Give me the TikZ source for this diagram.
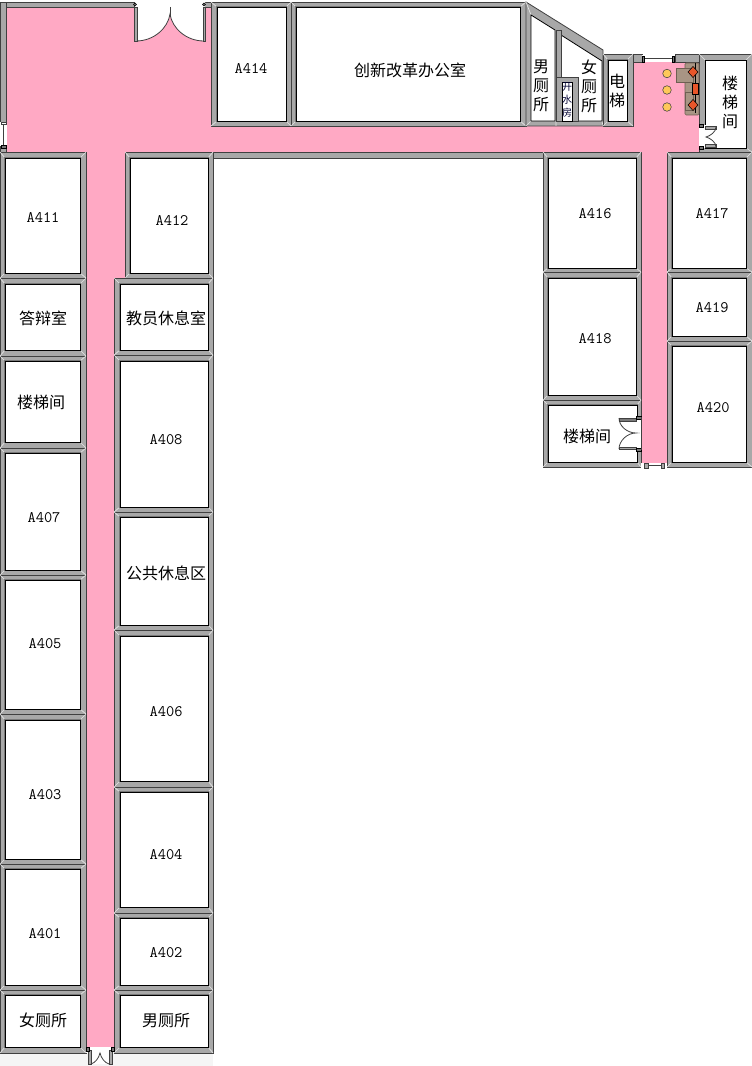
\documentclass[tikz,border=0pt]{standalone}
\usepackage{fontspec}
\newfontfamily\cjk{Noto Sans CJK SC}
\definecolor{corr}{HTML}{FFA9C4}
\definecolor{wallc}{HTML}{A8A8A8}
\definecolor{walld}{HTML}{404040}
\definecolor{sofa}{HTML}{A89584}
\definecolor{sofad}{HTML}{6E5F52}
\definecolor{orng}{HTML}{E8562A}
\definecolor{ylw}{HTML}{FFC85A}
\tikzset{
  wall/.style={fill=wallc,draw=walld,line width=0.6pt},
  inner room/.style={fill=white,draw=black,line width=0.6pt},
  inner edge/.style={draw=walld!70,line width=0.9pt},
  mitre/.style={draw=white!80!gray,line width=0.5pt},
  lat/.style={font=\ttfamily\fontsize{12}{12}\selectfont,inner sep=0pt},
  cjkt/.style={font=\cjk\fontsize{12}{13}\selectfont,inner sep=0pt},
  vert/.style={font=\cjk\fontsize{12}{14.25}\selectfont,inner sep=0pt,align=center},
  tiny cjk/.style={font=\cjk\fontsize{7.5}{9.6}\selectfont,inner sep=0pt,align=center,text=black!80!blue},
  leaf/.style={draw=walld,line width=0.6pt},
  barpart/.style={fill=wallc,draw=walld,line width=0.4pt},
  capbit/.style={fill=walld!70,draw=black,line width=0.4pt}
}
% name, outer corner a, outer corner b, inner corner a, inner corner b, text pos, text style, text
\newcommand\roomx[8]{%
  \path[wall] (#2) rectangle (#3);
  \path (#2) coordinate (oa) (#3) coordinate (ob) (#4) coordinate (ia) (#5) coordinate (ib);
  \draw[mitre] (oa) -- (ia) (ob) -- (ib) (oa |- ob) -- (ia |- ib) (ob |- oa) -- (ib |- ia);
  \path[inner edge] (ia) rectangle (ib);
  \path[inner room] (ia) rectangle (ib);
  \node[#7] (#1) at (#6) {#8};
}
\begin{document}
\begin{tikzpicture}[x=0.75pt,y=-0.75pt]
\useasboundingbox (0,0) rectangle (752,1066);
\fill[white] (0,0) rectangle (752,1066);
\fill[black!4] (0,1053) rectangle (213,1066);
% corridor
\fill[corr] (6,7) -- (211,7) -- (211,126) -- (633,126) -- (633,62) -- (699,62) -- (699,152) -- (667,152) -- (667,463) -- (641,463) -- (641,152) -- (125,152) -- (125,278) -- (114,278) -- (114,1047) -- (86,1047) -- (86,152) -- (6,152) -- cycle;
% outer walls at top left
\path[wall] (0,2) rectangle (134,7);
\path[wall] (0,2) rectangle (6,122);
\path[wall] (0,146) rectangle (6,152);
\path[wall] (204,2) rectangle (211,7);
% entrance door
\fill[white] (135,0) -- (205,0) -- (205,41) .. controls (186,41) and (172,28) .. (170,14) .. controls (168,28) and (154,41) .. (136,41) -- cycle;
\draw[leaf] (136,41) .. controls (154,41) and (168,28) .. (170,14) .. controls (172,28) and (186,41) .. (204,41);
\draw[leaf] (170,7) -- (170,17);
\path[wall] (134,7) rectangle (137,41);
\path[wall] (203,7) rectangle (205.5,41);
\draw[capbit] (135,4.5) circle (1.5);
\draw[capbit] (204,4.5) circle (1.5);
% left window
\fill[white] (0,122) rectangle (6.5,146);
\draw[leaf] (3,123) -- (3,145);
\path[barpart,fill=white] (1,122) rectangle (6,124);
\path[capbit] (1,145) rectangle (6,148);
% top rooms
\roomx{r414}{211,2}{291,126}{217,7}{286,121}{251,69}{lat}{A414}
\roomx{rchuang}{291,2}{526,126}{296,7}{520,121}{410,70}{cjkt}{创新改革办公室}
% toilets upper block
\path[wall] (526,2) -- (603,50) -- (603,126) -- (526,126) -- cycle;
\draw[mitre] (526,2) -- (531,15) (526,126) -- (531,121) (603,126) -- (602,121) (556,126) -- (556,121);
\path[inner room] (531,15) -- (555,30) -- (555,121) -- (531,121) -- cycle;
\path[inner room] (561,35) -- (602,61) -- (602,121) -- (561,121) -- cycle;
\path[wall] (556,30) rectangle (561,121);
\path[wall] (556,77) rectangle (578,121);
\path[fill=white,draw=black,line width=0.4pt] (562,82) rectangle (572,121);
\node[vert] (rnan) at (541,86) {男\\厕\\所};
\node[vert] (rnv) at (589,86) {女\\厕\\所};
\node[tiny cjk] (rkai) at (567,100) {开\\水\\房};
% elevator
\roomx{rdian}{603,54}{633,126}{608,60}{627,121}{617,91}{vert}{电\\梯}
% walls around top window
\path[wall] (633,54) rectangle (642,62);
\path[wall] (675,54) rectangle (700,62);
\fill[white] (642,55) rectangle (675,62);
\draw[leaf] (644,58) -- (673,58);
\path[capbit] (642,56) rectangle (644,62);
\path[capbit] (672,56) rectangle (674,62);
% stairs upper right
\path[wall] (699,54) rectangle (752,152);
\draw[mitre] (699,54) -- (705,60) (752,54) -- (746,60) (752,152) -- (746,148);
\path[inner room] (705,60) rectangle (746,148);
\node[vert] (rlou) at (730,102) {楼\\梯\\间};
% right stair door
\fill[white] (699,125) rectangle (706,148);
\path[barpart] (705,126) rectangle (716,129);
\path[barpart] (705,144) rectangle (716,147);
\draw[leaf] (716,127) .. controls (716,132) and (710,136) .. (706,137) .. controls (710,138) and (716,142) .. (716,147);
\path[capbit] (699,124) rectangle (703,127);
\path[capbit] (699,146) rectangle (703,149);
% sofa and lamps
\path[fill=sofa,draw=sofad,line width=0.4pt,rounded corners=1pt] (685,63) rectangle (699,115);
\path[fill=sofa,draw=sofad,line width=0.4pt] (676,68) rectangle (693,82);
\path[fill=sofa,draw=sofad,line width=0.4pt] (685,92) rectangle (693,110);
\draw[black,line width=0.7pt] (695,63) -- (695,113);
\path[fill=orng,draw=black,line width=0.4pt] (693,66.5) -- (698,72) -- (693,77.5) -- (688,72) -- cycle;
\path[fill=orng,draw=black,line width=0.4pt] (693,99.5) -- (698,105) -- (693,110.5) -- (688,105) -- cycle;
\path[fill=orng,draw=black,line width=0.4pt] (692,83) rectangle (698,94);
\foreach \yy in {73.5,90,107} \path[fill=ylw,draw=walld,line width=0.4pt] (667,\yy) circle (4.3);
% corridor wall from A412 to A416
\path[wall] (213,152) rectangle (543,158);
% left column
\roomx{r411}{0,152}{86,278}{5,158}{80,273}{43,218}{lat}{A411}
\roomx{rdab}{0,278}{86,356}{5,284}{80,350}{43,318}{cjkt}{答辩室}
\roomx{rl1}{0,356}{86,448}{5,361}{80,442}{41,402}{cjkt}{楼梯间}
\roomx{r407}{0,448}{86,575}{5,453}{80,570}{44,518}{lat}{A407}
\roomx{r405}{0,575}{86,714}{5,580}{80,709}{45,644}{lat}{A405}
\roomx{r403}{0,714}{86,864}{5,720}{80,859}{45,795}{lat}{A403}
\roomx{r401}{0,864}{86,990}{5,869}{80,985}{45,934}{lat}{A401}
\roomx{rnvb}{0,990}{86,1053}{5,995}{80,1047}{43,1020}{cjkt}{女厕所}
% right column
\roomx{r412}{125,152}{213,278}{130,158}{208,273}{172,220}{lat}{A412}
\roomx{rjy}{114,278}{213,355}{120,284}{208,350}{166,318}{cjkt}{教员休息室}
\roomx{r408}{114,355}{213,512}{120,361}{208,507}{166,440}{lat}{A408}
\roomx{rgg}{114,512}{213,630}{120,517}{208,625}{166,573}{cjkt}{公共休息区}
\roomx{r406}{114,630}{213,787}{120,636}{208,781}{166,712}{lat}{A406}
\roomx{r404}{114,787}{213,913}{120,792}{208,907}{166,855}{lat}{A404}
\roomx{r402}{114,913}{213,990}{120,918}{208,985}{166,953}{lat}{A402}
\roomx{rnanb}{114,990}{213,1053}{120,995}{208,1047}{166,1021}{cjkt}{男厕所}
% right block
\roomx{r416}{543,152}{641,272}{548,158}{636,268}{595,214}{lat}{A416}
\roomx{r418}{543,272}{641,400}{548,278}{636,395}{595,339}{lat}{A418}
\roomx{rl2}{543,400}{641,467}{548,405}{637,462}{587,436}{cjkt}{楼梯间}
\roomx{r417}{667,152}{752,272}{672,158}{746,268}{712,214}{lat}{A417}
\roomx{r419}{667,272}{752,341}{672,278}{746,336}{712,308}{lat}{A419}
\roomx{r420}{667,341}{752,467}{672,346}{746,462}{713,408}{lat}{A420}
% door of lower stairs
\fill[white] (635,417) rectangle (641,450);
\path[barpart,fill=walld!70] (619,418) rectangle (636,421);
\path[barpart] (619,447) rectangle (636,449);
\draw[leaf] (619,418) .. controls (619,426) and (627,433) .. (636,433) .. controls (627,433) and (619,441) .. (619,449);
\path[capbit] (636,416) rectangle (641,419);
\path[capbit] (636,448) rectangle (641,451);
\draw[walld,line width=0.6pt] (641,417) -- (641,450);
% bottom window of right corridor
\fill[white] (641,463) rectangle (667,468);
\draw[leaf] (647,465.5) -- (661,465.5);
\path[barpart] (644,463) rectangle (648,468);
\path[barpart] (661,463) rectangle (664,468);
% bottom door
\fill[white] (86,1047) rectangle (114,1053);
\fill[white] (91,1053) rectangle (109,1064);
\path[barpart] (88,1050) rectangle (91,1064);
\path[barpart] (109,1050) rectangle (112,1064);
\draw[leaf] (91,1064) .. controls (95,1063) and (99,1058) .. (100,1053) .. controls (101,1058) and (105,1063) .. (109,1064);
\path[capbit] (86,1047) rectangle (89,1051);
\path[capbit] (111,1047) rectangle (114,1051);
\end{tikzpicture}
\end{document}
